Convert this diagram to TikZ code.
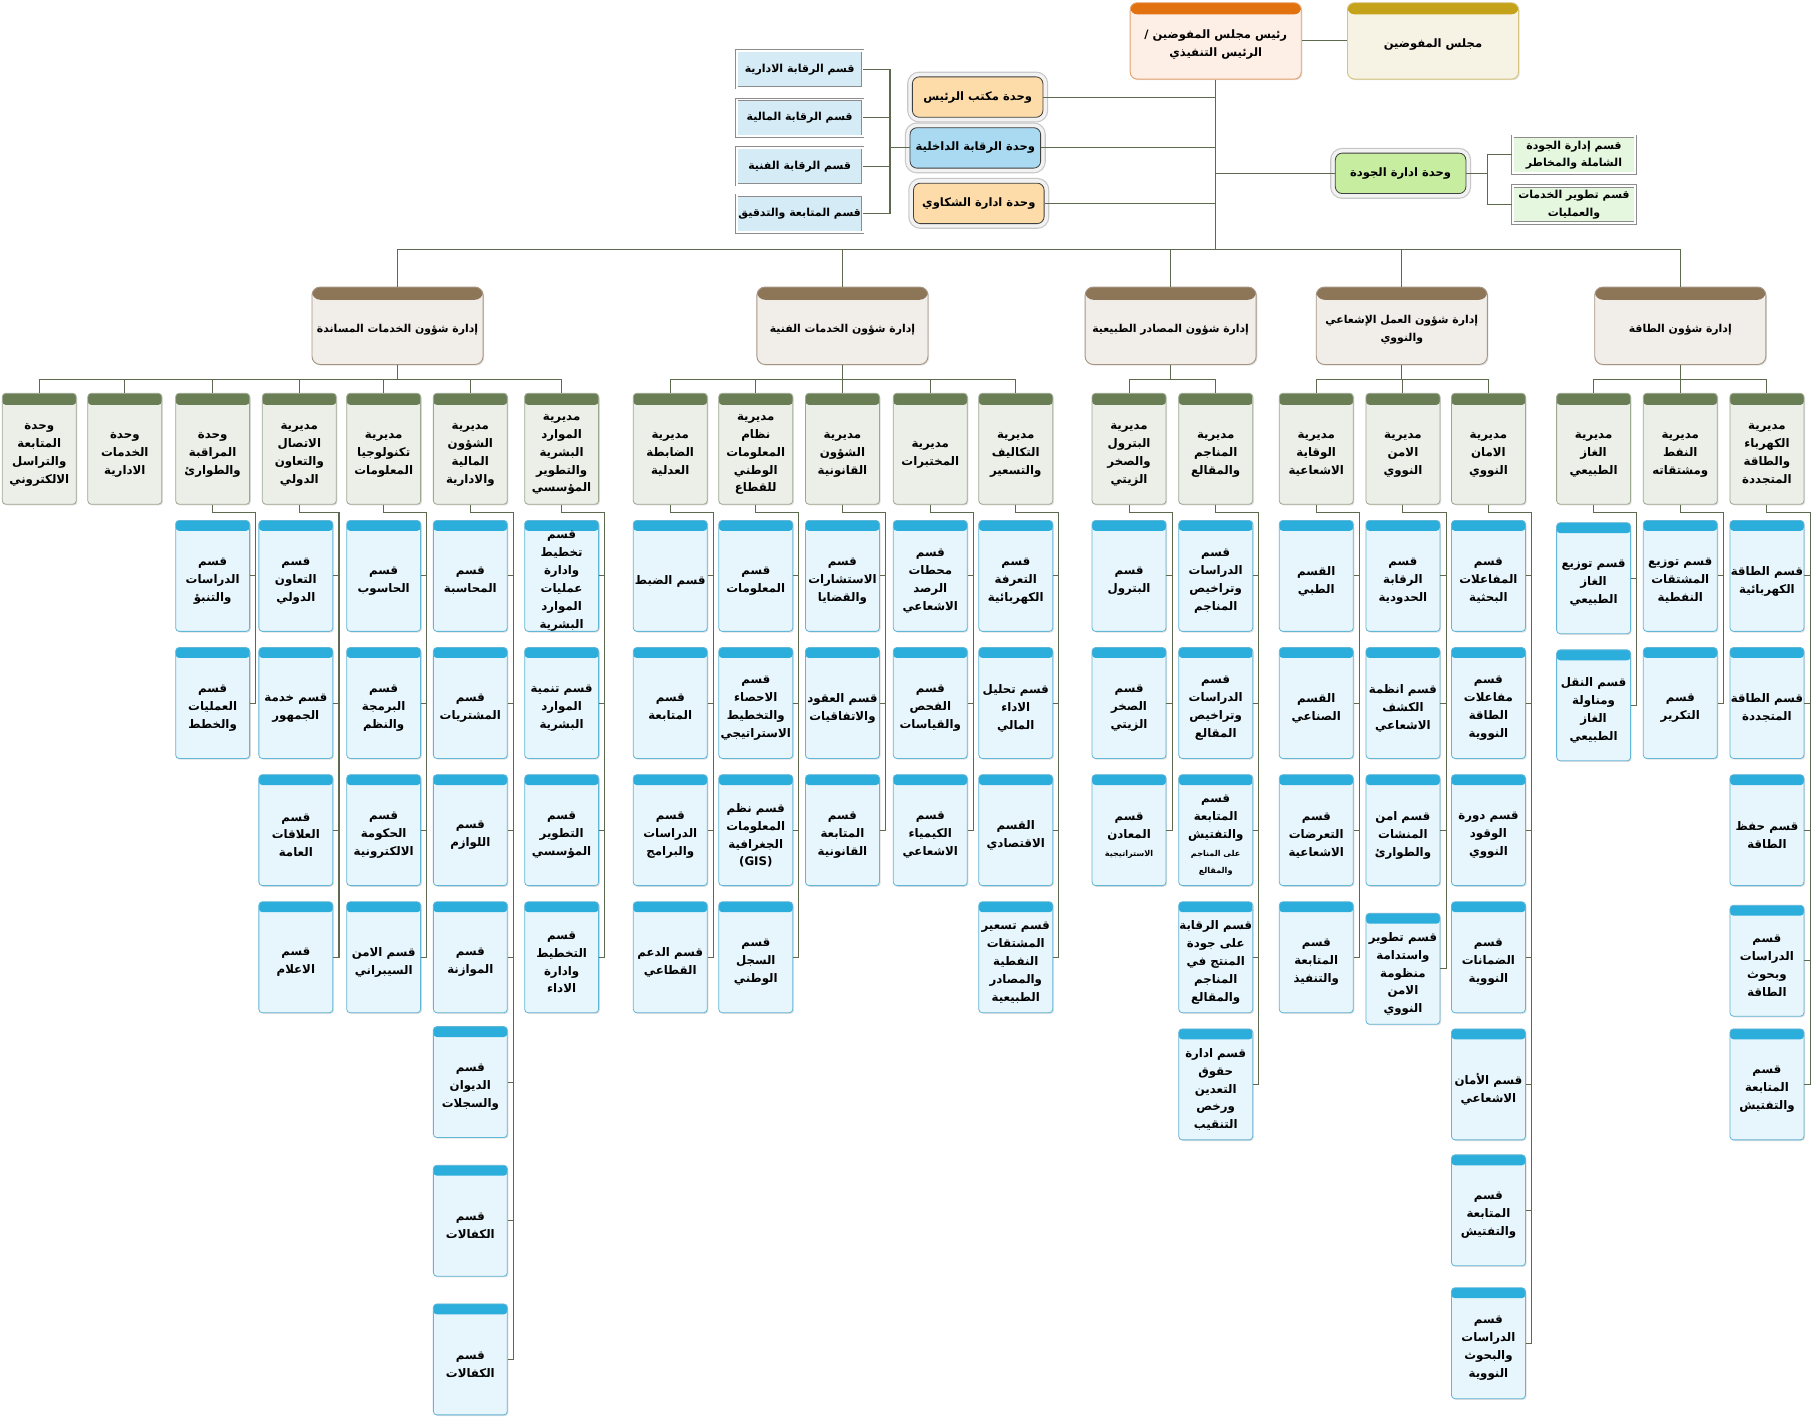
\documentclass[tikz,border=0pt]{standalone}
\usepackage{fontspec}
\usepackage{tikz}
\usetikzlibrary{shadows}
\TeXXeTstate=1
\newfontfamily\arabicfont[Script=Arabic]{DejaVu Sans}

\definecolor{linkCol}{HTML}{5D6A50}
\definecolor{presHead}{HTML}{E2720F}
\definecolor{presBody}{HTML}{FDEEE6}
\definecolor{presLine}{HTML}{E3A36E}
\definecolor{counHead}{HTML}{C4A31A}
\definecolor{counBody}{HTML}{F7F3E4}
\definecolor{counLine}{HTML}{D6C47C}
\definecolor{deptHead}{HTML}{8D7557}
\definecolor{deptBody}{HTML}{F1EDE9}
\definecolor{deptLine}{HTML}{A79684}
\definecolor{dirHead}{HTML}{6A7E55}
\definecolor{dirBody}{HTML}{ECEEE8}
\definecolor{dirLine}{HTML}{9DA890}
\definecolor{cardHead}{HTML}{2BAEDB}
\definecolor{cardBody}{HTML}{E7F5FC}
\definecolor{cardLine}{HTML}{62B6D6}
\definecolor{offFill}{HTML}{FDDCA9}
\definecolor{audFill}{HTML}{A9DAF1}
\definecolor{qualFill}{HTML}{C7EEA0}
\definecolor{audSec}{HTML}{D5ECF6}
\definecolor{qualSec}{HTML}{E5F8DF}

\newcommand\cardfont{\arabicfont\bfseries\fontsize{10.2}{15.5}\selectfont}
\newcommand\boxfont{\arabicfont\bfseries\fontsize{10}{15.5}\selectfont}
\newcommand\deptfont{\arabicfont\bfseries\fontsize{9.4}{15.5}\selectfont}
\newcommand\secfont{\arabicfont\bfseries\fontsize{9.5}{15}\selectfont}
\newcommand\sm{\fontsize{7}{9}\selectfont}

\newdimen\ARw \ARw=60pt
\def\ARtop{0pt}
\def\ARstopm{\ARstop}
\def\ARline#1{\hbox to\ARw{\hss#1\hss}}
\def\ARfirst#1|{\ARline{#1}\ARnext}
\def\ARnext#1|{\def\ARtmp{#1}\ifx\ARtmp\ARstopm\else\ARline{#1}\expandafter\ARnext\fi}
\newcommand\ARL[1]{\vbox{\vskip\ARtop\expandafter\ARfirst#1|\ARstop|}}

\tikzset{
  link/.style={draw=linkCol, line width=0.9pt},
  softshadow/.style={drop shadow={shadow xshift=1pt, shadow yshift=-1pt, opacity=0.25}},
  hdr/.style 2 args={path picture={\fill[#1] (path picture bounding box.north west) rectangle ([yshift=-#2]path picture bounding box.north east);}},
  card/.style={hdr={cardHead}{9pt}, draw=cardLine, fill=cardBody, rounded corners=3pt, line width=0.7pt,
    minimum width=64pt, minimum height=96pt, inner sep=0pt, anchor=north, font=\cardfont,
    execute at begin node={\ARw=60pt\def\ARtop{9pt}}, softshadow},
  dirbox/.style={card, hdr={dirHead}{10pt}, draw=dirLine, fill=dirBody,
    execute at begin node={\def\ARtop{10pt}}},
  deptbox/.style={hdr={deptHead}{11pt}, draw=deptLine, fill=deptBody, rounded corners=7pt, line width=0.8pt,
    minimum width=148pt, minimum height=67pt, inner sep=0pt, anchor=north, font=\deptfont,
    execute at begin node={\ARw=144pt\def\ARtop{7pt}}, softshadow},
  headbox/.style={hdr={#1}{10pt}, rounded corners=6pt, line width=0.8pt,
    minimum width=148pt, minimum height=66pt, inner sep=0pt, anchor=north, font=\boxfont,
    execute at begin node={\ARw=144pt\def\ARtop{6pt}}, softshadow},
  unitbox/.style={draw=black!75, line width=0.7pt, rounded corners=6pt, minimum width=113pt, minimum height=35pt,
    inner sep=0pt, font=\boxfont, execute at begin node={\ARw=110pt\def\ARtop{0pt}},
    preaction={draw=black!22, line width=9pt}, preaction={draw=black!5, line width=7pt}},
  secbox/.style={draw=black!45, line width=0.6pt, double=white, double distance=1.5pt, minimum width=109pt, minimum height=32pt,
    inner sep=0pt, font=\secfont, execute at begin node={\ARw=105pt\def\ARtop{0pt}}}
}

\newcommand\cardcol[4]{%
  \foreach \row/\ypos/\txt in {#4}{%
    \node[card] (#1-\row) at (#2,\ypos) {\ARL{\txt}};
    \draw[link] (#1-\row.east) -- ++(5,0);
  }
  \draw[link] (#1.south) -- ++(0,7) -| ([xshift=5pt]#1-#3.east) -- (#1-#3.east);
}

\begin{document}
\begin{tikzpicture}[x=1pt,y=-1pt]
\fill[white] (0,0) rectangle (1568,1228);
\useasboundingbox (0,0) rectangle (1568,1228);

\node[headbox=presHead, fill=presBody, draw=presLine] (pres) at (1052,2) {\ARL{\beginR رئيس مجلس المفوضين /\endR|\beginR الرئيس التنفيذي\endR}};
\node[headbox=counHead, fill=counBody, draw=counLine] (coun) at (1240,2) {\ARL{\beginR مجلس المفوضين\endR}};
\draw[link] (pres) -- (coun);

\node[unitbox, fill=offFill] (off) at (846,84) {\ARL{\beginR وحدة مكتب الرئيس\endR}};
\node[unitbox, fill=audFill] (aud) at (844,128) {\ARL{\beginR وحدة الرقابة الداخلية\endR}};
\node[unitbox, fill=offFill] (cmp) at (847,176) {\ARL{\beginR وحدة ادارة الشكاوي\endR}};
\node[unitbox, fill=qualFill] (qua) at (1212,150) {\ARL{\beginR وحدة ادارة الجودة\endR}};

\coordinate (bus) at (1052,216);
\draw[link] (pres.south) -- (bus);
\foreach \u in {off,aud,cmp} \draw[link] (\u.east) -- (\u.east -| bus);
\draw[link] (qua.west) -- (qua.west -| bus);

\draw[link] (aud.west) -- ++(-17,0) coordinate (abus);
\foreach \i/\ypos/\txt in {1/60/\beginR قسم الرقابة الادارية\endR,2/102/\beginR قسم الرقابة المالية\endR,3/144/\beginR قسم الرقابة الفنية\endR,4/185/\beginR قسم المتابعة والتدقيق\endR}{
  \node[secbox, fill=audSec] (a\i) at (692,\ypos) {\ARL{\txt}};
  \draw[link] (a\i.east) -| (abus);
}
\draw[link] (qua.east) -- ++(18,0) coordinate (qbus);
\foreach \i/\ypos/\txt in {1/134/\beginR قسم إدارة الجودة\endR|\beginR الشاملة والمخاطر\endR,2/177/\beginR قسم تطوير الخدمات\endR|والعمليات}{
  \node[secbox, fill=qualSec, minimum width=106pt] (q\i) at (1362,\ypos) {\ARL{\txt}};
  \draw[link] (q\i.west) -| (qbus);
}

\foreach \n/\x/\txt in {sup/344/\beginR إدارة شؤون الخدمات المساندة\endR,tec/729/\beginR إدارة شؤون الخدمات الفنية\endR,nat/1013/\beginR إدارة شؤون المصادر الطبيعية\endR,nuc/1213/\beginR إدارة شؤون العمل الإشعاعي\endR|والنووي,ene/1454/\beginR إدارة شؤون الطاقة\endR}{
  \node[deptbox] (\n) at (\x,248) {\ARL{\txt}};
  \draw[link] (bus) -| (\n.north);
}

\foreach \p/\n/\x/\txt in {sup/s1/34/وحدة|المتابعة|والتراسل|الالكتروني,sup/s2/108/وحدة|الخدمات|الادارية,sup/s3/184/وحدة|المراقبة|والطوارئ,sup/s4/259/مديرية|الاتصال|والتعاون|الدولي,sup/s5/332/مديرية|تكنولوجيا|المعلومات,sup/s6/407/مديرية|الشؤون|المالية|والادارية,sup/s7/486/مديرية|الموارد|البشرية|والتطوير|المؤسسي,
  tec/t1/580/مديرية|الضابطة|العدلية,tec/t2/654/مديرية|نظام|المعلومات|الوطني|للقطاع,tec/t3/729/مديرية|الشؤون|القانونية,tec/t4/805/مديرية|المختبرات,tec/t5/879/مديرية|التكاليف|والتسعير,
  nat/n1/977/مديرية|البترول|والصخر|الزيتي,nat/n2/1052/مديرية|المناجم|والمقالع,
  nuc/r1/1139/مديرية|الوقاية|الاشعاعية,nuc/r2/1214/مديرية|الامن|النووي,nuc/r3/1288/مديرية|الامان|النووي,
  ene/e1/1379/مديرية|الغاز|الطبيعي,ene/e2/1454/مديرية|النفط|ومشتقاته,ene/e3/1529/مديرية|الكهرباء|والطاقة|المتجددة}{
  \node[dirbox] (\n) at (\x,340) {\ARL{\txt}};
  \draw[link] (\p.south) -- ++(0,13) -| (\n.north);
}

\cardcol{s3}{184}{2}{1/450/قسم|الدراسات|والتنبؤ,2/560/قسم|العمليات|والخطط}
\cardcol{s4}{256}{4}{1/450/قسم|التعاون|الدولي,2/560/\beginR قسم خدمة\endR|الجمهور,3/670/قسم|العلاقات|العامة,4/780/قسم|الاعلام}
\cardcol{s5}{332}{4}{1/450/قسم|الحاسوب,2/560/قسم|البرمجة|والنظم,3/670/قسم|الحكومة|الالكترونية,4/780/\beginR قسم الامن\endR|السيبراني}
\cardcol{s6}{407}{7}{1/450/قسم|المحاسبة,2/560/قسم|المشتريات,3/670/قسم|اللوازم,4/780/قسم|الموازنة,5/888/قسم|الديوان|والسجلات,6/1008/قسم|الكفالات,7/1128/قسم|الكفالات}
\cardcol{s7}{486}{4}{1/450/قسم|تخطيط|وادارة|عمليات|الموارد|البشرية,2/560/\beginR قسم تنمية\endR|الموارد|البشرية,3/670/قسم|التطوير|المؤسسي,4/780/قسم|التخطيط|وادارة|الاداء}

\cardcol{t1}{580}{4}{1/450/\beginR قسم الضبط\endR,2/560/قسم|المتابعة,3/670/قسم|الدراسات|والبرامج,4/780/\beginR قسم الدعم\endR|القطاعي}
\cardcol{t2}{654}{4}{1/450/قسم|المعلومات,2/560/قسم|الاحصاء|والتخطيط|الاستراتيجي,3/670/\beginR قسم نظم\endR|المعلومات|الجغرافية|(GIS),4/780/قسم|السجل|الوطني}
\cardcol{t3}{729}{3}{1/450/قسم|الاستشارات|والقضايا,2/560/\beginR قسم العقود\endR|والاتفاقيات,3/670/قسم|المتابعة|القانونية}
\cardcol{t4}{805}{3}{1/450/قسم|محطات|الرصد|الاشعاعي,2/560/قسم|الفحص|والقياسات,3/670/قسم|الكيمياء|الاشعاعي}
\cardcol{t5}{879}{4}{1/450/قسم|التعرفة|الكهربائية,2/560/\beginR قسم تحليل\endR|الاداء|المالي,3/670/القسم|الاقتصادي,4/780/\beginR قسم تسعير\endR|المشتقات|النفطية|والمصادر|الطبيعية}

\cardcol{n1}{977}{3}{1/450/قسم|البترول,2/560/قسم|الصخر|الزيتي,3/670/قسم|المعادن|\sm الاستراتيجية}
\cardcol{n2}{1052}{5}{1/450/قسم|الدراسات|وتراخيص|المناجم,2/560/قسم|الدراسات|وتراخيص|المقالع,3/670/قسم|المتابعة|والتفتيش|\sm\beginR على المناجم\endR|\sm والمقالع,4/780/\beginR قسم الرقابة\endR|\beginR على جودة\endR|\beginR المنتج في\endR|المناجم|والمقالع,5/890/\beginR قسم ادارة\endR|حقوق|التعدين|ورخص|التنقيب}

\cardcol{r1}{1139}{4}{1/450/القسم|الطبي,2/560/القسم|الصناعي,3/670/قسم|التعرضات|الاشعاعية,4/780/قسم|المتابعة|والتنفيذ}
\cardcol{r2}{1214}{4}{1/450/قسم|الرقابة|الحدودية,2/560/\beginR قسم انظمة\endR|الكشف|الاشعاعي,3/670/\beginR قسم امن\endR|المنشات|والطوارئ,4/790/\beginR قسم تطوير\endR|واستدامة|منظومة|الامن|النووي}
\cardcol{r3}{1288}{7}{1/450/قسم|المفاعلات|البحثية,2/560/قسم|مفاعلات|الطاقة|النووية,3/670/\beginR قسم دورة\endR|الوقود|النووي,4/780/قسم|الضمانات|النووية,5/890/\beginR قسم الأمان\endR|الاشعاعي,6/999/قسم|المتابعة|والتفتيش,7/1114/قسم|الدراسات|والبحوث|النووية}

\cardcol{e1}{1379}{2}{1/452/\beginR قسم توزيع\endR|الغاز|الطبيعي,2/562/\beginR قسم النقل\endR|ومناولة|الغاز|الطبيعي}
\cardcol{e2}{1454}{2}{1/450/\beginR قسم توزيع\endR|المشتقات|النفطية,2/560/قسم|التكرير}
\cardcol{e3}{1529}{5}{1/450/\beginR قسم الطاقة\endR|الكهربائية,2/560/\beginR قسم الطاقة\endR|المتجددة,3/670/\beginR قسم حفظ\endR|الطاقة,4/783/قسم|الدراسات|وبحوث|الطاقة,5/890/قسم|المتابعة|والتفتيش}
\end{tikzpicture}
\end{document}
